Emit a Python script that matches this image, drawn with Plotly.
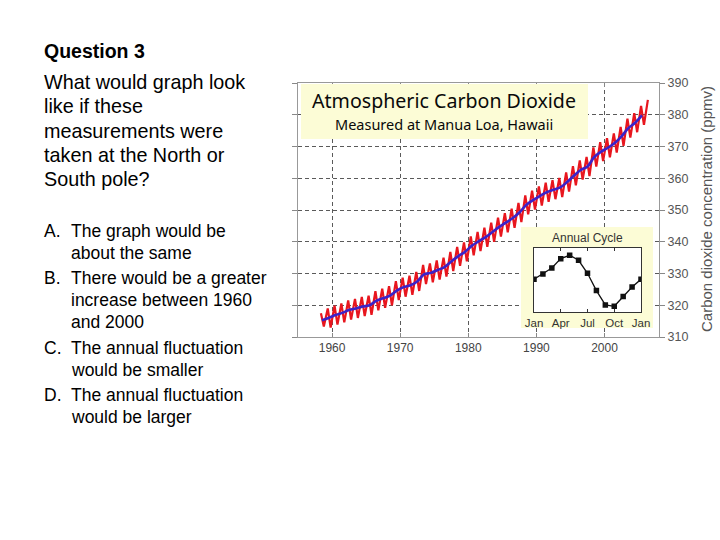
import plotly.graph_objects as go

# ---------------- data ----------------
years = list(range(1958, 2007))  # 1958..2006
annual_mean = [315.3, 316.0, 316.9, 317.6, 318.5, 319.0, 319.6, 320.0, 321.4, 322.2,
               323.0, 324.6, 325.7, 326.3, 327.5, 329.7, 330.2, 331.1, 332.0, 333.8,
               335.4, 336.8, 338.7, 340.1, 341.4, 343.0, 344.6, 346.0, 347.4, 349.2,
               351.6, 353.1, 354.4, 355.6, 356.4, 357.1, 358.8, 360.8, 362.6, 363.7,
               366.7, 368.4, 369.6, 371.1, 373.2, 375.8, 377.5, 379.8]  # 1958..2005
may_peak = [317.5, 319.0, 319.9, 320.6, 321.5, 322.0, 322.6, 323.0, 324.4, 325.2,
            326.0, 327.6, 328.7, 329.3, 330.5, 332.7, 333.2, 334.1, 335.0, 336.8,
            338.4, 339.8, 341.7, 343.1, 344.4, 346.0, 347.6, 349.0, 350.4, 352.2,
            354.6, 356.1, 357.4, 358.6, 359.4, 360.1, 361.8, 363.8, 365.6, 366.7,
            369.7, 371.4, 372.6, 374.1, 376.2, 378.8, 380.5, 382.8, 384.7]  # 1958..2006
oct_trough = [313.3, 313.0, 313.9, 314.6, 315.5, 316.0, 316.6, 317.0, 318.4, 319.2,
              320.0, 321.6, 322.7, 323.3, 324.5, 326.7, 327.2, 328.1, 329.0, 330.8,
              332.4, 333.8, 335.7, 337.1, 338.4, 340.0, 341.6, 343.0, 344.4, 346.2,
              348.6, 350.1, 351.4, 352.6, 353.4, 354.1, 355.8, 357.8, 359.6, 360.7,
              363.7, 365.4, 366.6, 368.1, 370.2, 372.8, 374.5, 376.8]  # 1958..2005

cycle_months = ["Jan", "Feb", "Mar", "Apr", "May", "Jun", "Jul", "Aug", "Sep", "Oct", "Nov", "Dec", "Jan"]
cycle_anomaly = [0.03, 0.72, 1.50, 2.70, 3.14, 2.49, 0.81, -1.43, -3.28, -3.46, -2.21, -0.96, 0.03]

x_ticks = [1960, 1970, 1980, 1990, 2000]
y_ticks = [310, 320, 330, 340, 350, 360, 370, 380, 390]
cycle_ticks = ["Jan", "Apr", "Jul", "Oct", "Jan"]

# ---------------- build series ----------------
red_x, red_y = [], []
for i, yr in enumerate(years):
    red_x.append(yr + 4.4 / 12)
    red_y.append(may_peak[i])
    if i < len(oct_trough):
        red_x.append(yr + 9.5 / 12)
        red_y.append(oct_trough[i])

blue_x = [yr + 0.5 for yr in years[:len(annual_mean)]]
cyc_x = list(range(len(cycle_months)))

W, H = 720, 540
def px(x):
    return x / W
def py(y):
    return 1 - y / H

YELLOW = "#fcfcd6"

fig = go.Figure()
fig.add_trace(go.Scatter(x=red_x, y=red_y, mode="lines",
                         line=dict(color="#e8161e", width=2.2), hoverinfo="skip",
                         xaxis="x", yaxis="y"))
fig.add_trace(go.Scatter(x=blue_x, y=annual_mean, mode="lines",
                         line=dict(color="#3b22c8", width=2.6, shape="spline"), hoverinfo="skip",
                         xaxis="x", yaxis="y"))
# empty trace for the inset panel subplot
fig.add_trace(go.Scatter(x=[], y=[], xaxis="x2", yaxis="y2", hoverinfo="skip"))
fig.add_trace(go.Scatter(x=cyc_x, y=cycle_anomaly, mode="lines+markers",
                         line=dict(color="#111", width=1.3),
                         marker=dict(symbol="square", size=5.5, color="#111"),
                         xaxis="x3", yaxis="y3", hoverinfo="skip"))

grid = dict(showgrid=True, gridcolor="#5a5a5a", gridwidth=1, griddash="4px,3px", zeroline=False)

fig.update_layout(
    template="none",
    width=W, height=H, autosize=False,
    margin=dict(l=0, r=0, t=0, b=0, pad=0, autoexpand=False),
    paper_bgcolor="white", plot_bgcolor=YELLOW,
    showlegend=False,
    xaxis=dict(domain=[px(298), px(659)], range=[1955.0, 2008.0], tickvals=x_ticks,
               showline=True, linecolor="#999", linewidth=1, mirror="ticks",
               ticks="inside", ticklen=4, tickcolor="#888", automargin=False,
               tickfont=dict(family="Liberation Sans", size=12, color="#444"), anchor="y", **grid),
    yaxis=dict(domain=[py(337), py(83)], range=[310, 390], tickvals=y_ticks, side="right",
               showline=True, linecolor="#999", linewidth=1, mirror="ticks",
               ticks="outside", ticklen=5, tickcolor="#888", automargin=False,
               tickfont=dict(family="Liberation Sans", size=12.5, color="#555"), anchor="x", **grid),
    xaxis2=dict(domain=[px(521), px(653)], range=[0, 1], visible=False, anchor="y2", automargin=False),
    yaxis2=dict(domain=[py(328), py(227)], range=[0, 1], visible=False, anchor="x2", automargin=False),
    xaxis3=dict(domain=[px(534), px(641)], range=[0, 12], tickvals=[0, 3, 6, 9, 12],
                ticktext=cycle_ticks, showline=True, linecolor="#333", linewidth=1,
                mirror="ticks", ticks="inside", ticklen=3, tickcolor="#333",
                showgrid=False, zeroline=False, anchor="y3", automargin=False,
                tickfont=dict(family="Liberation Sans", size=11.5, color="#333")),
    yaxis3=dict(domain=[py(312.3), py(247.7)], range=[-4.24, 4.12], showticklabels=False,
                showline=True, linecolor="#333", linewidth=1, mirror=True, automargin=False,
                ticks="", showgrid=False, zeroline=False, anchor="x3"),
)

# white plotting area of the main chart (below gridlines)
fig.add_shape(type="rect", xref="x", yref="y", x0=1955.0, x1=2008.0, y0=310, y1=390,
              fillcolor="white", line=dict(width=0), layer="below")
# white plotting area inside the inset box
fig.add_shape(type="rect", xref="x3", yref="y3", x0=0, x1=12, y0=-4.24, y1=4.12,
              fillcolor="white", line=dict(width=0), layer="below")
# title box
fig.add_shape(type="rect", xref="paper", yref="paper", x0=px(301), x1=px(588),
              y0=py(139), y1=py(84), fillcolor=YELLOW, line=dict(width=0), layer="above")

ann = []
def text(x, y, s, size, family="Liberation Sans", color="#000", bold=False, xanchor="left", angle=0):
    ann.append(dict(x=px(x), y=py(y), xref="paper", yref="paper", text=("<b>%s</b>" % s) if bold else s,
                    showarrow=False, xanchor=xanchor, yanchor="middle", textangle=angle, borderpad=0,
                    font=dict(family=family, size=size, color=color)))

text(444, 100.5, "Atmospheric Carbon Dioxide", 19.6, family="Noto Sans", color="#0a0a0a", xanchor="center")
text(444, 124.2, "Measured at Manua Loa, Hawaii", 14.5, family="Noto Sans", color="#0a0a0a", xanchor="center")
text(587, 238, "Annual Cycle", 12, color="#333", xanchor="center")
text(706, 209, "Carbon dioxide concentration (ppmv)", 15, color="#555", xanchor="center", angle=-90)

text(43, 51, "Question 3", 19.5, bold=True)
for i, line in enumerate(["What would graph look", "like if these", "measurements were",
                          "taken at the North or", "South pole?"]):
    text(43, 82 + 24.3 * i, line, 19.8)

options = [("A.", ["The graph would be", "about the same"], 231),
           ("B.", ["There would be a greater", "increase between 1960", "and 2000"], 278),
           ("C.", ["The annual fluctuation", "would be smaller"], 348),
           ("D.", ["The annual fluctuation", "would be larger"], 395)]
for letter, lines, y0 in options:
    text(43, y0, letter, 17.5)
    for j, line in enumerate(lines):
        text(70, y0 + 22 * j, line, 17.5)

fig.update_layout(annotations=ann)
fig.write_html("out.html", config={"displayModeBar": False},
               post_script="document.body.style.margin='0';document.body.style.overflow='hidden';")
